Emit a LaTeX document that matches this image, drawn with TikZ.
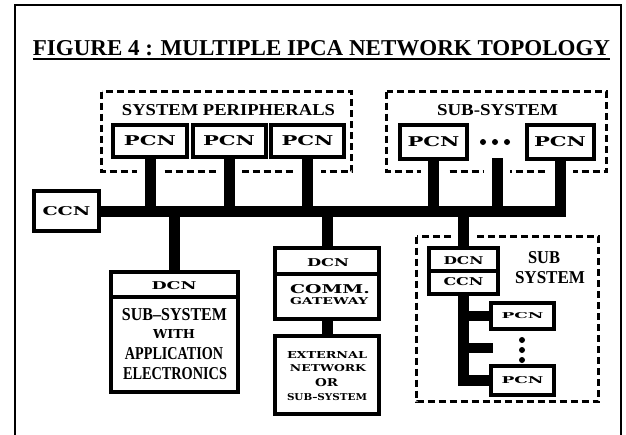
\documentclass[tikz,border=0pt]{standalone}
\usepackage{fontspec}
\usepackage{graphicx}
\setmainfont{Liberation Serif}
\newfontfamily\boxfont{DejaVu Serif}
\newcommand{\fitlbl}[3]{\resizebox{#1pt}{#2pt}{#3}}
\begin{document}
\begin{tikzpicture}[x=1pt,y=-1pt,
  solidbox/.style={draw, line width=4pt, fill=white, inner sep=0pt},
  dashbox/.style={draw, line width=3.5pt, dash pattern=on 7pt off 4pt},
  link/.style={line width=11pt},
  gap/.style={preaction={draw=white, line width=26pt}},
  lab/.style={inner sep=0pt, font=\boxfont\bfseries},
  body/.style={inner sep=0pt, font=\bfseries},
  divider/.style={line width=3.5pt},
  dot/.style={circle, fill=black, inner sep=0pt, minimum size=6pt}]
\useasboundingbox (0,0) rectangle (626,434);
\clip (0,0) rectangle (626,434);
% frame
\draw[line width=1.5pt] (15,440) -- (15,5) -- (621,5) -- (621,440);
% title
\node[inner sep=0pt, font=\bfseries] (title) at (321.5,48) {\fitlbl{577}{15}{FIGURE 4 : MULTIPLE IPCA NETWORK TOPOLOGY}};
\draw[line width=2.5pt] ([yshift=-3pt]title.south west) -- ([yshift=-3pt]title.south east);
% dashed groups
\draw[dashbox] (101.5,91.5) rectangle (351.5,171.5);
\draw[dashbox] (386.5,91.5) rectangle (606.5,171.5);
\draw[dashbox] (416.5,236.5) rectangle (598.5,401.5);
\node[inner sep=0pt, font=\bfseries] (spt) at (228.5,110.5) {\fitlbl{213}{11}{SYSTEM PERIPHERALS}};
\node[inner sep=0pt, font=\bfseries] (sst) at (497.5,110.5) {\fitlbl{121}{11}{SUB-SYSTEM}};
% coordinates
\coordinate (stubtop) at (497,158);
\coordinate (stubR) at (493,348);
\coordinate (div1) at (0,297);
\coordinate (div2) at (0,274);
\coordinate (div3) at (0,271);
% boxes
\node[solidbox, minimum width=70pt, minimum height=28pt] (p1) at (150,141) {};
\node[solidbox, minimum width=69pt, minimum height=28pt] (p2) at (229,141) {};
\node[solidbox, minimum width=69pt, minimum height=28pt] (p3) at (307.5,141) {};
\node[solidbox, minimum width=63pt, minimum height=30pt] (p4) at (433.5,142) {};
\node[solidbox, minimum width=63pt, minimum height=30pt] (p5) at (560,142) {};
\node[solidbox, minimum width=61pt, minimum height=36pt] (ccn) at (66.5,211) {};
\node[solidbox, minimum width=123pt, minimum height=116pt] (dcn1) at (174,332) {};
\node[solidbox, minimum width=100pt, minimum height=67pt] (box2) at (327,283.5) {};
\node[solidbox, minimum width=100pt, minimum height=74pt] (box3) at (327,375) {};
\node[solidbox, minimum width=65pt, minimum height=42pt] (dc) at (463.5,271) {};
\node[solidbox, minimum width=59pt, minimum height=22pt] (sp1) at (522.5,316) {};
\node[solidbox, minimum width=59pt, minimum height=25pt] (sp2) at (522.5,380.5) {};
% vertical links
\draw[link, gap] (p1.south) -- (p1.south |- ccn.east);
\draw[link, gap] (p2.south) -- (p2.south |- ccn.east);
\draw[link, gap] (p3.south) -- (p3.south |- ccn.east);
\draw[link, gap] (p4.south) -- (p4.south |- ccn.east);
\draw[link, gap] (stubtop) -- (stubtop |- ccn.east);
\draw[link, gap] (p5.south) -- (p5.south |- ccn.east);
\draw[link] (dcn1.north) -- (dcn1.north |- ccn.east);
\draw[link] (box2.north) -- (box2.north |- ccn.east);
\draw[link] (box2.south) -- (box3.north);
\draw[link, gap] (dc.north) -- (dc.north |- ccn.east);
% bus
\draw[link] (ccn.east) -- ([xshift=5.5pt]ccn.east -| p5.south);
% subsystem internal
\draw[link] (dc.south) |- (sp2.west);
\draw[link, line width=10pt] (sp1.west -| dc.south) -- (sp1.west);
\draw[link, line width=10pt] (stubR -| dc.south) -- (stubR);
% redraw boxes on top
\foreach \b in {p1,p2,p3,p4,p5,ccn,dcn1,box2,box3,dc,sp1,sp2}{
  \draw[line width=4pt, fill=white] (\b.north west) rectangle (\b.south east);
}
\draw[divider] (dcn1.west |- div1) -- (dcn1.east |- div1);
\draw[divider] (box2.west |- div2) -- (box2.east |- div2);
\draw[divider] (dc.west |- div3) -- (dc.east |- div3);
% labels
\node[lab] (l1) at (p1) {\fitlbl{52}{10}{PCN}};
\node[lab] (l2) at (p2) {\fitlbl{52}{10}{PCN}};
\node[lab] (l3) at (p3) {\fitlbl{52}{10}{PCN}};
\node[lab] (l4) at (p4) {\fitlbl{52}{10}{PCN}};
\node[lab] (l5) at (p5) {\fitlbl{52}{10}{PCN}};
\node[lab] (lccn) at (ccn) {\fitlbl{48}{9}{CCN}};
\node[lab] (ld1) at (174,286) {\fitlbl{45}{8}{DCN}};
\node[body] (b1) at (174.5,315) {\fitlbl{105}{12}{SUB–SYSTEM}};
\node[lab] (b2) at (174,334) {\fitlbl{42}{9}{WITH}};
\node[body] (b3) at (174,353.5) {\fitlbl{98}{12}{APPLICATION}};
\node[body] (b4) at (175,374) {\fitlbl{104}{12}{ELECTRONICS}};
\node[lab] (ld2) at (328,263) {\fitlbl{42}{8}{DCN}};
\node[lab] (c1) at (330,289) {\fitlbl{80}{9}{COMM.}};
\node[lab] (c2) at (329,301) {\fitlbl{78}{7}{GATEWAY}};
\node[lab] (e1) at (327,355) {\fitlbl{80}{7}{EXTERNAL}};
\node[lab] (e2) at (328,368.5) {\fitlbl{76}{7}{NETWORK}};
\node[lab] (e3) at (326.5,383) {\fitlbl{23}{8}{OR}};
\node[lab] (e4) at (327,397) {\fitlbl{80}{7}{SUB–SYSTEM}};
\node[lab] (ld3) at (463.5,261) {\fitlbl{40}{8}{DCN}};
\node[lab] (lc3) at (463.5,282) {\fitlbl{40}{8}{CCN}};
\node[body] (s1) at (544,258) {\fitlbl{32}{12}{SUB}};
\node[body] (s2) at (550,278) {\fitlbl{70}{12}{SYSTEM}};
\node[lab] (ls1) at (sp1) {\fitlbl{42}{6}{PCN}};
\node[lab] (ls2) at (sp2) {\fitlbl{42}{7}{PCN}};
% dots
\node[dot] (h1) at (483,142) {};
\node[dot] (h2) at (495,142) {};
\node[dot] (h3) at (507,142) {};
\node[dot] (v1) at (522,340) {};
\node[dot] (v2) at (522,350) {};
\node[dot] (v3) at (522,360) {};
\end{tikzpicture}
\end{document}
